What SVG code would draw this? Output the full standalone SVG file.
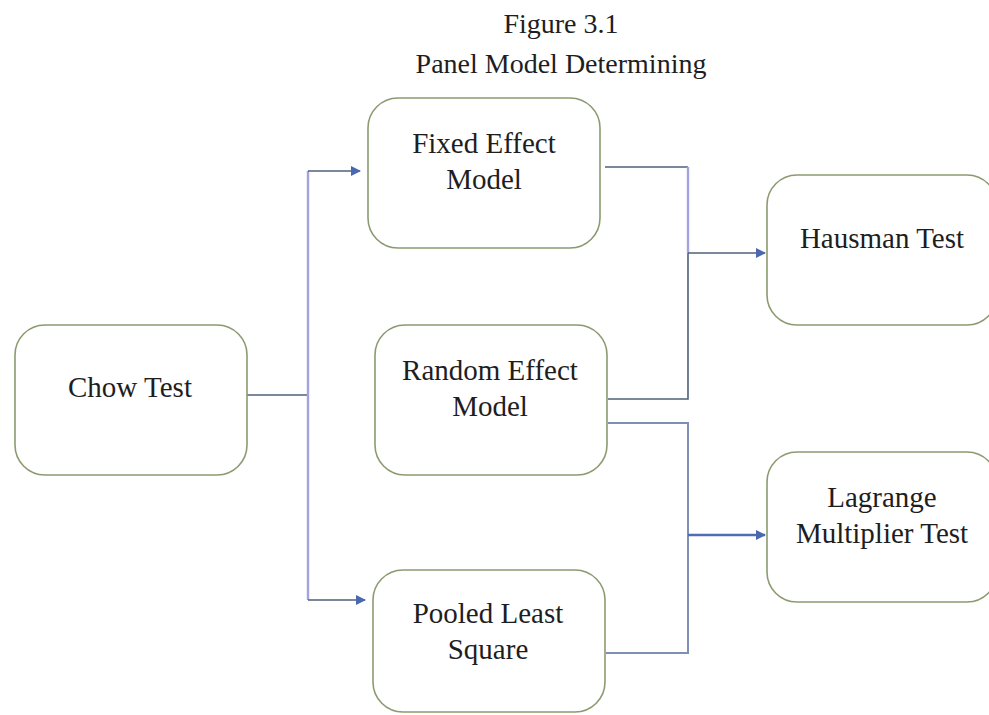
<svg xmlns="http://www.w3.org/2000/svg" width="989" height="715" viewBox="0 0 989 715">
<defs>
<style>
.box{fill:#ffffff;stroke:#8c9a70;stroke-width:1.6}
.lbl{font-family:"Liberation Serif","Times New Roman",serif;font-size:29px;fill:#1e1e1e;text-anchor:middle}
.ttl{font-family:"Liberation Serif","Times New Roman",serif;font-size:28px;fill:#1e1e1e;text-anchor:middle}
.ln{fill:none;stroke:#4f5f7a;stroke-width:1.6}
.lv{fill:none;stroke:#a3a3e0;stroke-width:2.4}
.lb{fill:none;stroke:#7f8fb5;stroke-width:2}
</style>
<marker id="arr" markerWidth="10" markerHeight="10" refX="9" refY="5" orient="auto" markerUnits="userSpaceOnUse">
<path d="M0,0 L10,5 L0,10 Z" fill="#4a68b0"/>
</marker>
</defs>
<rect width="989" height="715" fill="#ffffff"/>
<g id="title">
<text class="ttl" x="561" y="33">Figure 3.1</text>
<text class="ttl" x="561" y="73">Panel Model Determining</text>
</g>
<g id="connectors">
<path class="ln" d="M247,395 H308"/>
<path class="lv" d="M308,171 V600"/>
<path class="ln" d="M308,171 H360" marker-end="url(#arr)"/>
<path class="ln" d="M308,600 H365" marker-end="url(#arr)"/>
<path class="ln" d="M605,167 H688"/>
<path class="lv" d="M688,167 V253"/>
<path class="ln" d="M688,253 V399 H608"/>
<path class="ln" d="M688,253 H765" marker-end="url(#arr)"/>
<path class="lb" d="M608,423 H688 V653 H606"/>
<path class="ln" d="M688,535 H765" marker-end="url(#arr)" style="stroke:#4f6db0;stroke-width:2.6"/>
</g>
<g id="chow">
<rect class="box" x="15" y="325" width="232" height="150" rx="30"/>
<text class="lbl" x="130" y="397">Chow Test</text>
</g>
<g id="fixed">
<rect class="box" x="368" y="98" width="232" height="150" rx="30"/>
<text class="lbl" x="484" y="153">Fixed Effect</text>
<text class="lbl" x="484" y="189">Model</text>
</g>
<g id="random">
<rect class="box" x="375" y="325" width="232" height="150" rx="30"/>
<text class="lbl" x="490" y="380">Random Effect</text>
<text class="lbl" x="490" y="416">Model</text>
</g>
<g id="pooled">
<rect class="box" x="373" y="570" width="232" height="142" rx="30"/>
<text class="lbl" x="488" y="623">Pooled Least</text>
<text class="lbl" x="488" y="659">Square</text>
</g>
<g id="hausman">
<rect class="box" x="767" y="175" width="230" height="150" rx="30"/>
<text class="lbl" x="882" y="248">Hausman Test</text>
</g>
<g id="lagrange">
<rect class="box" x="767" y="452" width="230" height="150" rx="30"/>
<text class="lbl" x="882" y="507">Lagrange</text>
<text class="lbl" x="882" y="543">Multiplier Test</text>
</g>
</svg>
